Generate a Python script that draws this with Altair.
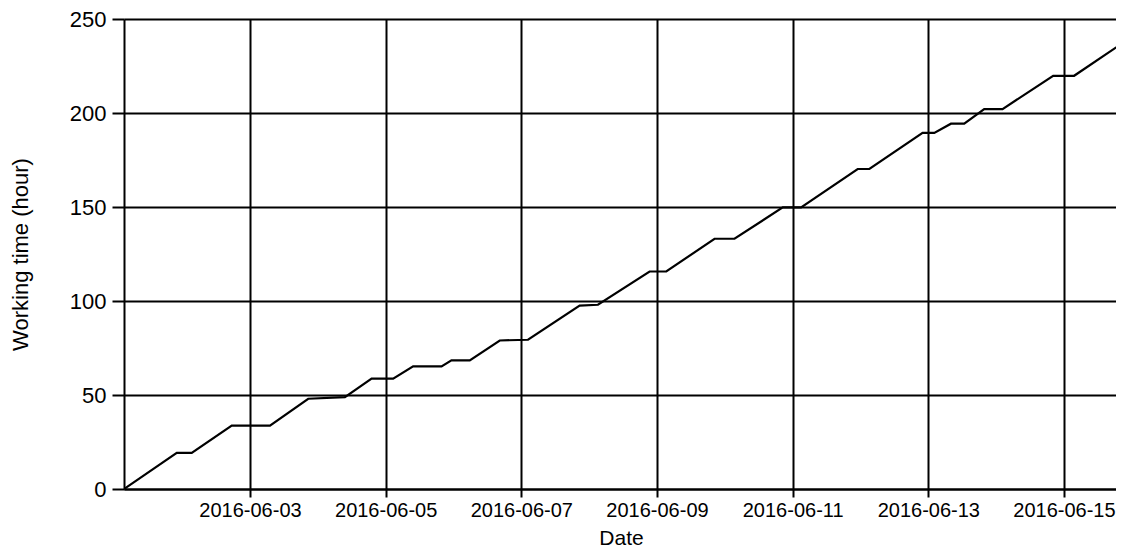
import altair as alt
import pandas as pd

times = ["2016-06-01 03:25", "2016-06-01 22:05", "2016-06-02 03:23", "2016-06-02 17:32",
         "2016-06-03 07:04", "2016-06-03 20:36", "2016-06-04 09:35", "2016-06-04 19:01",
         "2016-06-05 02:39", "2016-06-05 09:43", "2016-06-05 19:46", "2016-06-05 23:17",
         "2016-06-06 05:46", "2016-06-06 16:22", "2016-06-07 02:22", "2016-06-07 20:38",
         "2016-06-08 03:07", "2016-06-08 21:23", "2016-06-09 03:17", "2016-06-09 20:22",
         "2016-06-10 03:26", "2016-06-10 20:30", "2016-06-11 03:00", "2016-06-11 23:01",
         "2016-06-12 03:09", "2016-06-12 21:59", "2016-06-13 02:07", "2016-06-13 08:01",
         "2016-06-13 12:43", "2016-06-13 19:47", "2016-06-14 02:16", "2016-06-14 20:11",
         "2016-06-15 03:36", "2016-06-15 20:55"]
hours = [0, 19.2, 19.2, 33.7, 33.7, 48.0, 48.9, 58.7, 58.7, 65.2, 65.2, 68.4, 68.4,
         79.0, 79.4, 97.5, 98.0, 115.7, 115.7, 133.1, 133.1, 149.8, 149.8, 170.2, 170.2,
         189.4, 189.4, 194.3, 194.3, 202.1, 202.1, 219.8, 219.8, 237.4]
y_ticks = [0, 50, 100, 150, 200, 250]
x_domain = ["2016-06-01 03:25", "2016-06-15 18:25"]

df = pd.DataFrame({"time": times, "hours": hours})

FONT = "Liberation Sans"

chart = alt.Chart(df).mark_line(color="#000000", strokeWidth=2.2, clip=True).encode(
    x=alt.X("time:T",
            title="Date",
            scale=alt.Scale(domain=x_domain),
            axis=alt.Axis(format="%Y-%m-%d",
                          tickCount={"interval": "day", "step": 2},
                          labelFont=FONT, labelFontSize=20, labelColor="#000000",
                          labelPadding=3, tickSize=8, tickWidth=2, tickColor="#000000",
                          grid=True, gridColor="#000000", gridWidth=2, gridOpacity=1,
                          domainColor="#000000", domainWidth=2,
                          titleFont=FONT, titleFontSize=21, titleFontWeight="normal",
                          titleColor="#000000", titleBaseline="alphabetic",
                          titleY=55, titleX=497,
                          labelFlush=False, labelOverlap=False)),
    y=alt.Y("hours:Q",
            title="Working time (hour)",
            scale=alt.Scale(domain=[0, 250], nice=False),
            axis=alt.Axis(values=y_ticks,
                          labelFont=FONT, labelFontSize=22, labelColor="#000000",
                          labelPadding=6, tickSize=12, tickWidth=2, tickColor="#000000",
                          grid=True, gridColor="#000000", gridWidth=2, gridOpacity=1,
                          domainColor="#000000", domainWidth=2,
                          titleFont=FONT, titleFontSize=22, titleFontWeight="normal",
                          titleColor="#000000", titleBaseline="alphabetic",
                          titleX=-97, titleY=235, titleAngle=-90,
                          labelFlush=False)),
).properties(
    width=992,
    height=470,
    autosize=alt.AutoSizeParams(type="none"),
    padding={"left": 116, "top": 11, "right": 0, "bottom": 59},
).configure_view(stroke=None).configure(background="white")

chart.save("out.html", embed_options={"renderer": "svg", "actions": False})
